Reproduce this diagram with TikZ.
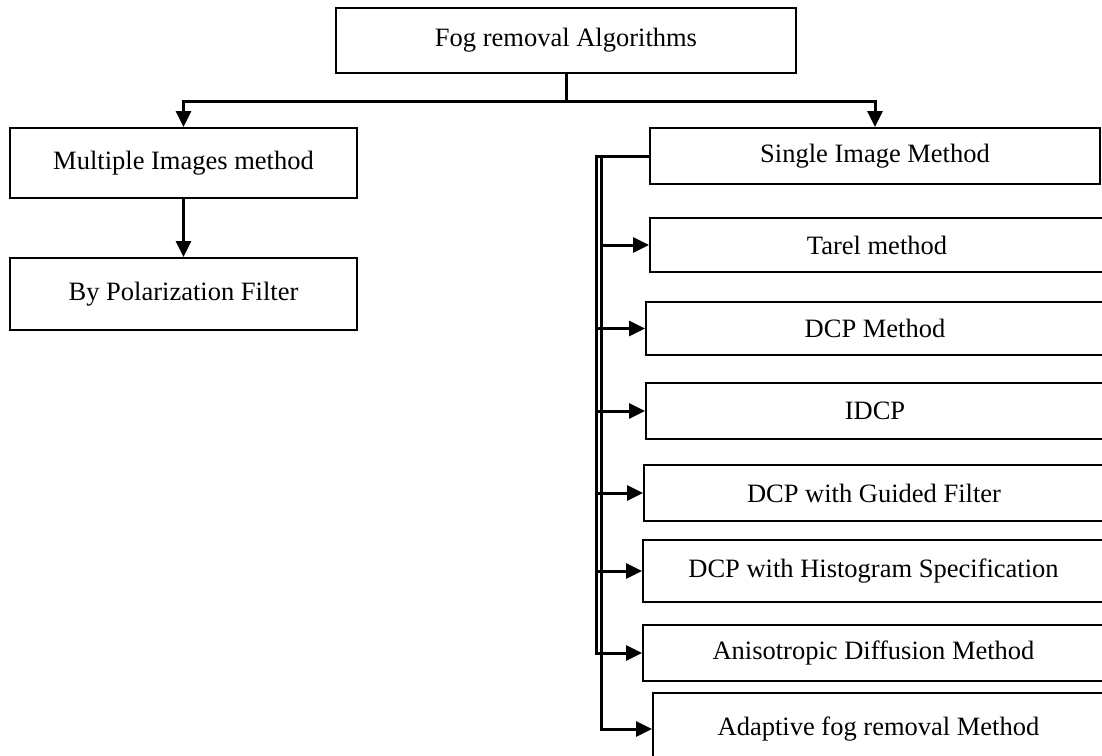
\documentclass[tikz,border=0pt]{standalone}
\usepackage{fontspec}
\setmainfont{Liberation Serif}
\usetikzlibrary{arrows.meta}
\tikzset{
  algobox/.style={draw, line width=2pt, inner sep=0pt, align=center,
                  font=\fontsize{26.5}{30}\selectfont},
  link/.style={line width=3pt},
  arrow/.style={link, -{Triangle[length=16pt,width=15pt]}},
}

\begin{document}
\begin{tikzpicture}[x=1pt, y=-1pt]
  \useasboundingbox (0,0) rectangle (1102,755);
  % root and the two families
  \node[algobox, minimum width=460pt, minimum height=65pt] (fog) at (566,40.5) {Fog removal Algorithms};
  \node[algobox, minimum width=347pt, minimum height=70pt] (multi) at (183.5,163) {Multiple Images method};
  \node[algobox, minimum width=347pt, minimum height=72pt] (polar) at (183.5,294) {By Polarization Filter};
  \node[algobox, minimum width=450pt, minimum height=56pt] (single) at (875,156) {Single Image Method};

  % single image methods
  \node[algobox, minimum width=454pt, minimum height=54pt] (tarel) at (877,245) {Tarel method};
  \node[algobox, minimum width=458pt, minimum height=53pt] (dcp) at (875,328.5) {DCP Method};
  \node[algobox, minimum width=458pt, minimum height=56pt] (idcp) at (875,411) {IDCP};
  \node[algobox, minimum width=460pt, minimum height=56pt] (guided) at (874,493) {DCP with Guided Filter};
  \node[algobox, minimum width=461pt, minimum height=62pt] (hist) at (873.5,571) {DCP with Histogram Specification};
  \node[algobox, minimum width=461pt, minimum height=56pt] (aniso) at (873.5,653) {Anisotropic Diffusion Method};
  \node[algobox, minimum width=451pt, minimum height=72pt] (adapt) at (878.5,729) {Adaptive fog removal Method};

  \draw[arrow] (fog.south) -- ++(0,27) -| (multi.north);
  \draw[arrow] (fog.south) -- ++(0,27) -| (single.north);
  \draw[arrow] (multi) -- (polar);

  % the two rails left of the single image boxes
  \draw[arrow] (single.west) -- ++(-53,0) coordinate (railL) |- (aniso.west);
  \draw[arrow] (single.west) -- ++(-48,0) coordinate (railR) |- (adapt.west);
  \draw[arrow] (railR |- tarel.west) -- (tarel.west);
  \foreach \m in {dcp, idcp, guided, hist}
    \draw[arrow] (railL |- \m.west) -- (\m.west);
\end{tikzpicture}
\end{document}
